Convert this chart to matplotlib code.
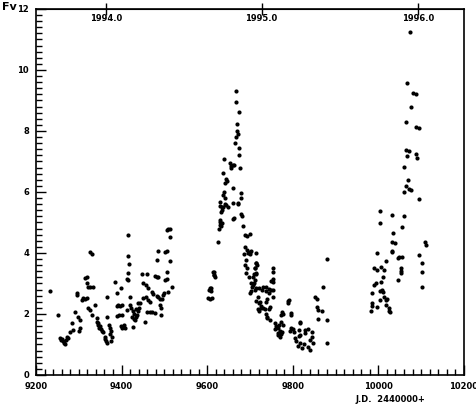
import matplotlib
matplotlib.use("Agg")
import matplotlib.pyplot as plt
from matplotlib.ticker import MultipleLocator

# 1994 season
jd_1994 = [9233, 9251, 9256, 9261, 9263, 9266, 9270, 9272, 9259, 9268, 9275,
           9284, 9279, 9286, 9291, 9296, 9295, 9298, 9303, 9303, 9300, 9307,
           9310, 9314, 9319, 9314, 9318, 9319, 9321, 9326, 9333, 9326, 9330,
           9321, 9326, 9331, 9338, 9342, 9342, 9345, 9348, 9352, 9355, 9350,
           9344, 9356, 9361, 9363, 9365, 9362, 9366, 9366, 9370, 9372, 9375,
           9377, 9376, 9374, 9384, 9389, 9389, 9392, 9396, 9400, 9389, 9395,
           9400, 9398, 9400, 9398, 9405, 9407, 9412, 9412, 9415, 9414, 9414,
           9417, 9414, 9419, 9419, 9422, 9426, 9424, 9428, 9431, 9433, 9434,
           9438, 9440, 9444, 9438, 9430, 9436, 9426, 9447, 9459, 9449, 9456,
           9461, 9454, 9449, 9458, 9459, 9466, 9470, 9461, 9470, 9473, 9466,
           9478, 9482, 9484, 9482, 9484, 9478, 9482, 9485, 9489, 9489, 9493,
           9492, 9494, 9497, 9499, 9501, 9505, 9501, 9505, 9505, 9508, 9505,
           9509, 9514, 9512, 9514, 9517]
fv_1994 = [2.75, 1.97, 1.21, 1.18, 1.12, 1.05, 1.15, 1.25, 1.13, 1.00, 1.22,
           1.70, 1.41, 1.48, 2.07, 2.62, 2.68, 1.90, 1.80, 1.54, 1.45, 2.46,
           2.52, 2.48, 2.52, 3.18, 3.22, 3.02, 2.89, 2.87, 2.89, 4.02, 3.98,
           2.20, 2.13, 1.97, 2.30, 1.87, 1.74, 1.65, 1.55, 1.50, 1.45, 1.60,
           1.70, 1.41, 1.25, 1.12, 1.05, 1.18, 1.90, 2.55, 1.64, 1.54, 1.45,
           1.25, 1.10, 1.35, 3.05, 2.69, 2.26, 2.29, 2.25, 2.30, 1.93, 1.95,
           1.97, 1.61, 1.55, 2.85, 1.65, 1.55, 2.13, 3.15, 3.10, 3.90, 4.59,
           3.64, 3.34, 2.56, 2.30, 2.20, 2.10, 1.90, 1.85, 1.80, 1.90, 2.15,
           2.10, 2.20, 2.35, 2.35, 2.00, 1.95, 1.57, 3.30, 3.32, 3.02, 2.95,
           2.85, 1.72, 2.52, 2.56, 2.05, 2.07, 2.08, 2.45, 2.72, 2.65, 2.39,
           3.25, 3.22, 3.20, 3.78, 4.05, 2.03, 2.60, 2.55, 2.48, 2.30, 2.20,
           1.97, 2.50, 2.62, 2.70, 3.10, 3.15, 4.02, 4.05, 3.38, 2.72, 4.75,
           4.77, 4.77, 4.52, 3.75, 2.90]

# 1995 season
jd_1995 = [9601, 9606, 9611, 9604, 9607, 9613, 9617, 9625, 9627, 9629, 9634,
           9629, 9634, 9637, 9645, 9660, 9660, 9671, 9668, 9667, 9674, 9670,
           9665, 9668, 9671, 9669, 9674, 9674, 9639, 9653, 9656, 9655, 9660,
           9663, 9676, 9637, 9643, 9646, 9642, 9660, 9639, 9638, 9642, 9680,
           9678, 9629, 9642, 9648, 9671, 9634, 9633, 9680, 9681, 9629, 9631,
           9633, 9662, 9683, 9688, 9692, 9699, 9688, 9692, 9685, 9696, 9699,
           9715, 9690, 9688, 9694, 9713, 9716, 9712, 9690, 9697, 9708, 9712,
           9753, 9754, 9615, 9617, 9619, 9608, 9609, 9703, 9706, 9710, 9722,
           9730, 9703, 9701, 9738, 9745, 9750, 9718, 9715, 9722, 9726, 9718,
           9722, 9726, 9741, 9738, 9748, 9745, 9699, 9703, 9715, 9712, 9713,
           9710, 9714, 9753, 9753, 9750, 9705, 9715, 9711, 9729, 9738, 9745,
           9755, 9881, 9870, 9724, 9753, 9790, 9790, 9851, 9856, 9730, 9736,
           9738, 9741, 9856, 9860, 9868, 9774, 9777, 9772, 9797, 9741, 9746,
           9858, 9881, 9758, 9762, 9765, 9768, 9772, 9778, 9770, 9776, 9758,
           9765, 9773, 9816, 9797, 9793, 9801, 9804, 9814, 9828, 9835, 9828,
           9818, 9814, 9844, 9840, 9844, 9805, 9808, 9816, 9826, 9812, 9821,
           9765, 9770, 9835, 9840, 9879, 9847, 9792, 9797, 9818]
fv_1995 = [2.52, 2.50, 2.52, 2.80, 2.85, 3.38, 3.28, 4.36, 4.79, 5.08, 4.98,
           5.67, 5.50, 5.50, 5.57, 5.64, 5.10, 5.64, 9.32, 8.96, 8.62, 8.23,
           7.60, 7.80, 7.90, 8.00, 7.44, 7.21, 7.08, 6.95, 6.85, 6.80, 6.88,
           6.90, 6.79, 6.62, 6.43, 6.35, 6.30, 6.13, 6.00, 5.90, 5.80, 5.97,
           5.80, 5.55, 5.62, 5.50, 5.62, 5.41, 5.35, 5.28, 5.20, 5.00, 4.92,
           4.88, 5.15, 4.89, 4.60, 4.55, 4.62, 4.20, 4.10, 3.98, 4.00, 3.95,
           4.00, 3.77, 3.62, 3.50, 3.67, 3.60, 3.52, 3.35, 3.22, 3.20, 3.10,
           3.15, 3.05, 3.38, 3.28, 3.20, 2.85, 2.75, 3.00, 2.95, 3.02, 2.85,
           2.87, 2.75, 2.70, 2.88, 2.82, 2.78, 2.55, 2.42, 2.35, 2.20, 2.15,
           2.10, 2.25, 2.50, 2.40, 2.23, 2.15, 4.03, 4.05, 3.67, 3.50, 3.35,
           3.30, 3.30, 3.50, 3.38, 3.08, 2.90, 2.85, 2.78, 2.80, 2.75, 2.70,
           2.77, 3.80, 2.88, 2.40, 2.57, 2.43, 2.36, 2.57, 2.50, 2.20, 2.15,
           2.00, 1.90, 2.23, 2.13, 2.10, 2.07, 2.00, 1.97, 2.03, 1.87, 1.80,
           1.84, 1.80, 1.70, 1.60, 1.55, 1.65, 1.74, 1.65, 1.45, 1.40, 1.50,
           1.38, 1.35, 1.74, 1.55, 1.45, 1.50, 1.42, 1.48, 1.48, 1.52, 1.38,
           1.32, 1.28, 1.42, 1.15, 1.25, 1.20, 1.10, 1.05, 1.00, 0.95, 0.90,
           1.30, 1.25, 0.92, 0.82, 1.05, 1.05, 2.46, 1.97, 1.70]

# 1996 season
jd_1996 = [9984, 9985, 9986, 9986, 9991, 9995, 9991, 9998, 9998, 10003, 10005,
           9998, 10003, 10003, 10009, 10012, 10007, 10012, 10007, 10014, 10014,
           10017, 10021, 10019, 10024, 10026, 10028, 10019, 10031, 10033, 10035,
           10033, 10033, 10040, 10045, 10049, 10056, 10045, 10054, 10054, 10053,
           10056, 10061, 10096, 10103, 10103, 10103, 10108, 10112, 10075, 10068,
           10082, 10089, 10077, 10065, 10087, 10094, 10065, 10072, 10068, 10087,
           10091, 10059, 10070, 10065, 10072, 10077, 10060, 10094]
fv_1996 = [2.10, 2.25, 2.35, 2.68, 2.95, 3.00, 3.50, 3.45, 4.00, 4.98, 5.38,
           2.23, 2.46, 2.75, 2.77, 2.72, 3.05, 3.21, 3.54, 3.45, 2.56,
           2.45, 2.50, 2.30, 2.20, 2.10, 2.05, 3.74, 4.05, 4.02, 4.66,
           5.25, 4.36, 4.33, 3.85, 3.87, 3.88, 3.11, 3.50, 3.42, 3.35,
           4.85, 5.21, 3.93, 3.67, 3.38, 2.88, 4.36, 4.26, 11.25, 9.58,
           9.25, 9.20, 8.80, 8.30, 8.13, 8.10, 7.38, 7.35, 7.18, 7.25,
           7.10, 6.82, 6.40, 6.20, 6.10, 6.05, 6.00, 5.77]

year_pos = [9363, 9727, 10092]
year_labels = ["1994.0", "1995.0", "1996.0"]

fig = plt.figure(figsize=(4.77, 4.08), dpi=100)
ax = fig.add_axes([0.0755, 0.081, 0.897, 0.897])

for jd, fv in [(jd_1994, fv_1994), (jd_1995, fv_1995), (jd_1996, fv_1996)]:
    ax.plot(jd, fv, "o", color="black", ms=3.0, mew=0)

ax.set_xlim(9200, 10200)
ax.set_ylim(0, 12)

ax.xaxis.set_major_locator(MultipleLocator(200))
ax.xaxis.set_minor_locator(MultipleLocator(20))
ax.yaxis.set_major_locator(MultipleLocator(2))
ax.yaxis.set_minor_locator(MultipleLocator(0.2))
ax.tick_params(which="both", direction="in", top=False, right=False,
               width=1.0, labelsize=6, colors="black")
ax.tick_params(which="major", length=7, pad=5)
ax.tick_params(which="minor", length=4)
for lab in ax.get_xticklabels() + ax.get_yticklabels():
    lab.set_fontweight("bold")

for s in ax.spines.values():
    s.set_linewidth(1.2)

# year ticks along the top edge
sec = ax.secondary_xaxis("top")
sec.set_xticks(year_pos)
sec.set_xticklabels(year_labels)
sec.tick_params(direction="inout", length=8, width=1.0, pad=-14,
                labelsize=6)
for lab in sec.get_xticklabels():
    lab.set_fontweight("bold")

fig.text(0.004, 0.984, "Fv", fontsize=8, fontweight="bold", ha="left", va="center")
fig.text(0.745, 0.02, "J.D.  2440000+", fontsize=6, fontweight="bold",
         ha="left", va="center")

fig.savefig("out.png", dpi=100)
